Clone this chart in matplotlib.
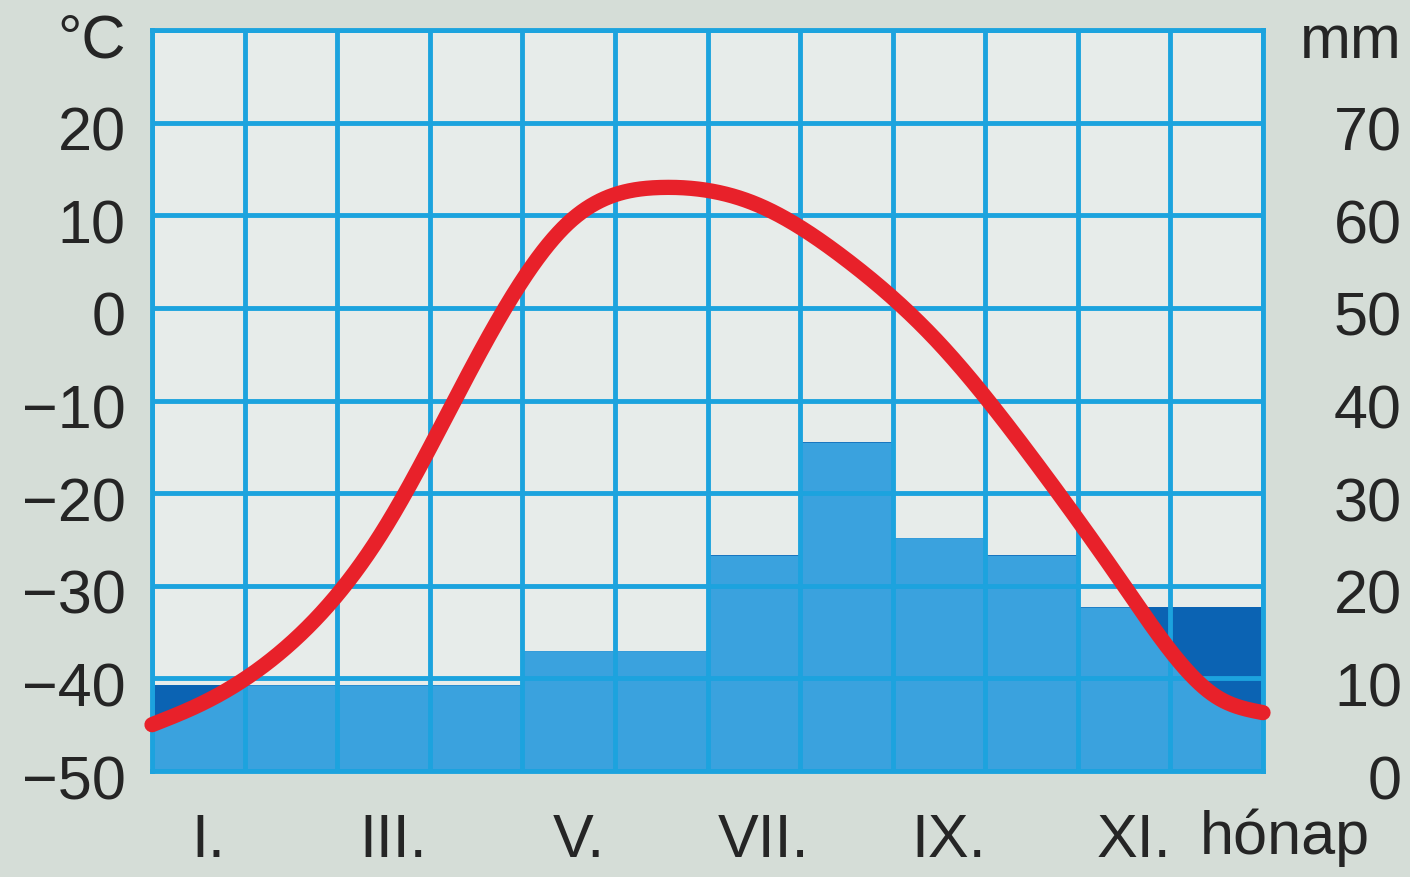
import matplotlib
matplotlib.use('Agg')
import matplotlib.pyplot as plt
import matplotlib.transforms as mtrans
import numpy as np

# monthly climate data
months = ['I.', 'II.', 'III.', 'IV.', 'V.', 'VI.', 'VII.', 'VIII.', 'IX.', 'X.', 'XI.', 'XII.']
precip_mm = [9.3, 9.3, 9.3, 9.3, 13.0, 13.0, 23.3, 35.5, 25.2, 23.3, 17.7, 17.7]
temp_c = [-42.9, -36.2, -24.0, -5.6, 9.2, 13.0, 11.3, 5.2, -3.8, -16.1, -30.0, -42.0]
temp_start = -45.0   # curve value at the left edge of the frame
temp_end = -43.7     # curve value at the right edge
month_ticks = ['I.', 'III.', 'V.', 'VII.', 'IX.', 'XI.']
temp_labels = ['\u221250', '\u221240', '\u221230', '\u221220', '\u221210', '0', '10', '20', '\u00b0C']
mm_labels = ['0', '10', '20', '30', '40', '50', '60', '70', 'mm']

fig_bg = '#d5ddd7'
plot_bg = '#e7ecea'
grid_col = '#1ca3de'
bar_col = '#3aa2de'
dark_col = '#0b63b3'
red = '#e8212a'
txt = '#252525'

plt.rcParams['font.family'] = ['Liberation Sans', 'DejaVu Sans']


def natural_spline(xk, yk, xs):
    xk = np.asarray(xk, float)
    yk = np.asarray(yk, float)
    n = len(xk)
    h = np.diff(xk)
    A = np.zeros((n, n))
    b = np.zeros(n)
    A[0, 0] = A[-1, -1] = 1
    for i in range(1, n - 1):
        A[i, i - 1] = h[i - 1]
        A[i, i] = 2 * (h[i - 1] + h[i])
        A[i, i + 1] = h[i]
        b[i] = 6 * ((yk[i + 1] - yk[i]) / h[i] - (yk[i] - yk[i - 1]) / h[i - 1])
    M = np.linalg.solve(A, b)
    idx = np.clip(np.searchsorted(xk, xs) - 1, 0, n - 2)
    x0, x1 = xk[idx], xk[idx + 1]
    hh = x1 - x0
    t0 = x1 - xs
    t1 = xs - x0
    return (M[idx] * t0**3 / (6 * hh) + M[idx + 1] * t1**3 / (6 * hh)
            + (yk[idx] / hh - M[idx] * hh / 6) * t0
            + (yk[idx + 1] / hh - M[idx + 1] * hh / 6) * t1)


fig = plt.figure(figsize=(14.1, 8.77), dpi=100, facecolor=fig_bg)
ax = fig.add_axes([152 / 1410, 1 - 771 / 877, 1111 / 1410, 741 / 877])
ax.set_facecolor(plot_bg)
ax.set_xlim(0, 12)
ax.set_ylim(-50, 30)

x = np.arange(12) + 0.5
# precipitation drawn in °C units: 1 mm == 1 °C, 0 mm at -50 °C
ax.bar(x, precip_mm, width=1.0, bottom=-50, color=dark_col, zorder=1, linewidth=0)

knots_x = np.concatenate([[0], x, [12]])
knots_y = np.concatenate([[temp_start], temp_c, [temp_end]])
xs = np.linspace(0, 12, 2401)
curve = natural_spline(knots_x, knots_y, xs)

# light part of each bar lies below the temperature curve
bar_top = np.array(precip_mm)[np.clip(np.floor(xs).astype(int), 0, 11)] - 50
ax.fill_between(xs, -50, np.minimum(curve, bar_top), color=bar_col, linewidth=0, zorder=1.5)

# grid
ax.vlines(np.arange(13), -50, 30, color=grid_col, linewidth=3.5, zorder=2)
ax.hlines(np.arange(-50, 31, 10), 0, 12, color=grid_col, linewidth=3.5, zorder=2)

ax.plot(xs, curve, color=red, linewidth=11, solid_capstyle='round', zorder=4, clip_on=False)

for s in ax.spines.values():
    s.set_color(grid_col)
    s.set_linewidth(3.5)

ax.set_yticks(np.arange(-50, 31, 10))
ax.set_yticklabels(temp_labels)
ax.set_xticks(np.arange(0, 12, 2) + 0.5)
ax.set_xticklabels(month_ticks)
ax.tick_params(axis='y', length=0, pad=19, labelsize=44, labelcolor=txt)
ax.tick_params(axis='x', length=0, pad=30, labelsize=44, labelcolor=txt)
off = mtrans.ScaledTranslation(10 / 100, 0, fig.dpi_scale_trans)
for lab in ax.get_xticklabels():
    lab.set_transform(lab.get_transform() + off)
down = mtrans.ScaledTranslation(0, -6 / 100, fig.dpi_scale_trans)
for lab in ax.get_yticklabels():
    lab.set_transform(lab.get_transform() + down)

ax.text(11.32, -0.09, 'h\u00f3nap', transform=mtrans.blended_transform_factory(ax.transData, ax.transAxes),
        ha='left', va='center', fontsize=44, color=txt)

ax2 = ax.twinx()
ax2.set_ylim(0, 80)
ax2.patch.set_visible(False)
for s in ax2.spines.values():
    s.set_visible(False)
ax2.set_yticks(np.arange(0, 81, 10))
ax2.set_yticklabels(mm_labels)
ax2.tick_params(axis='y', length=0, pad=100, labelsize=44, labelcolor=txt)
for lab in ax2.get_yticklabels():
    lab.set_horizontalalignment('right')
    lab.set_transform(lab.get_transform() + down)

fig.savefig('out.png', dpi=100, facecolor=fig_bg)
